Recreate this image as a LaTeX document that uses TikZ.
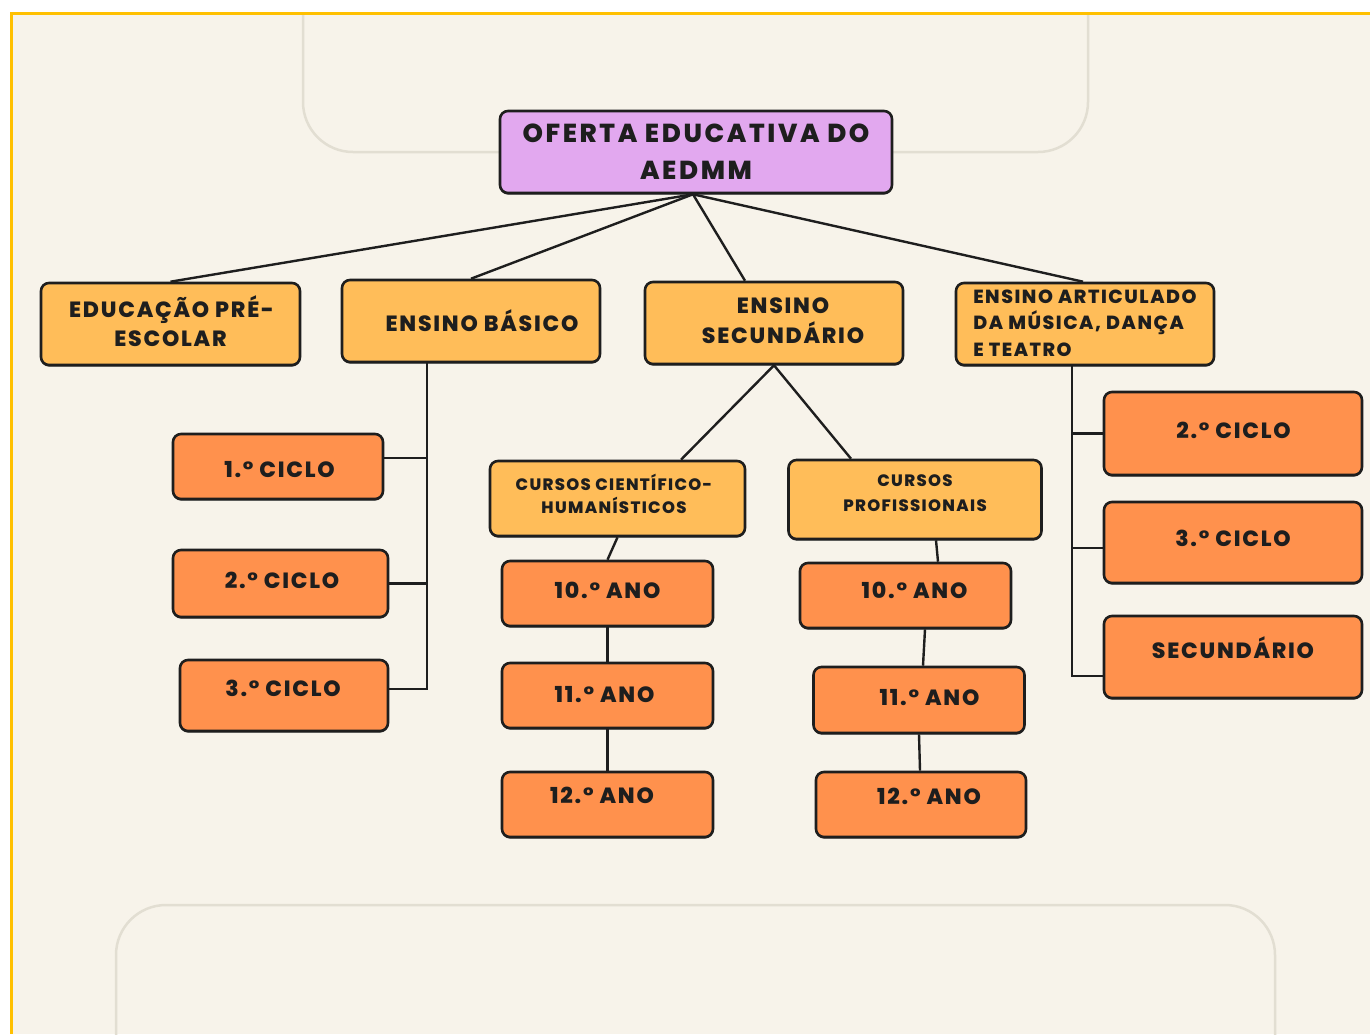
\documentclass[tikz,border=0pt]{standalone}
\usepackage{fontspec}
\setmainfont{Poppins}[LetterSpace=8, BoldFont={Poppins ExtraBold}]
\usetikzlibrary{calc}
\definecolor{cream}{HTML}{F7F3EA}
\definecolor{frameY}{HTML}{FFC000}
\definecolor{ghost}{HTML}{E2DED2}
\definecolor{lor}{HTML}{FFBD59}
\definecolor{dor}{HTML}{FF914D}
\definecolor{purp}{HTML}{E2A8EF}
\definecolor{ink}{HTML}{1E1E1E}
% centred line, shifted right by #1 and lifted by #2 (zero-size box)
\newcommand\ctext[3]{\raisebox{#2}[0pt][0pt]{\makebox[0pt]{\hspace*{#1}\hspace*{#1}#3}}}
% left-aligned line starting #1 from the node centre, lifted by #2
\newcommand\ltext[3]{\raisebox{#2}[0pt][0pt]{\makebox[0pt][l]{\hspace*{#1}#3}}}
\tikzset{
  box/.style={draw=ink, line width=2.6pt, rounded corners=8pt, inner sep=0pt, align=center, text=ink,
     preaction={fill=black!75, transform canvas={yshift=-1.6pt}}},
  lvl/.style={box, fill=lor, font=\bfseries\fontsize{22}{30}\selectfont},
  leaf/.style={box, fill=dor, font=\bfseries\fontsize{22}{30}\selectfont},
  conn/.style={draw=ink, line width=2.4pt},
  ghostline/.style={draw=ghost, line width=2.5pt, rounded corners=50pt}
}
\begin{document}
\begin{tikzpicture}[x=1pt,y=-1pt]
\useasboundingbox (0,0) rectangle (1370,1034);
\fill[white] (0,0) rectangle (1370,1034);
\fill[cream] (12,14) rectangle (1370,1034);
\begin{scope}
\clip (12,14) rectangle (1370,1034);
\draw[ghostline] (303,0) -- (303,152) -- (1088,152) -- (1088,0);
\draw[ghostline] (116,1050) -- (116,905) -- (1275,905) -- (1275,1050);
\end{scope}
\draw[frameY, line width=2.5pt] (11.5,1034) -- (11.5,13.5) -- (1370,13.5);

% root
\node[box, fill=purp, minimum width=392pt, minimum height=82pt, font=\bfseries\fontsize{26}{37}\selectfont\addfontfeature{LetterSpace=10}] (root) at (696,152) {\ctext{0pt}{-8.6pt}{OFERTA EDUCATIVA DO}\\\ctext{0pt}{-8.6pt}{AEDMM}};
% level 1
\node[lvl, minimum width=259pt, minimum height=82pt, font=\bfseries\fontsize{22}{29}\selectfont] (pre) at (170.5,324) {\ctext{1pt}{-7.7pt}{EDUCAÇÃO PRÉ-}\\\ctext{0pt}{-7.7pt}{ESCOLAR}};
\node[lvl, minimum width=258pt, minimum height=82pt] (bas) at (471,321) {\ctext{11pt}{-10.2pt}{ENSINO BÁSICO}};
\node[lvl, minimum width=258pt, minimum height=82pt, font=\bfseries\fontsize{22}{30.5}\selectfont] (sec) at (774,323) {\ctext{9pt}{-5.45pt}{ENSINO}\\\ctext{9pt}{-5.45pt}{SECUNDÁRIO}};
\node[lvl, minimum width=258pt, minimum height=82pt, font=\bfseries\fontsize{19}{26.3}\selectfont] (art) at (1085,324) {\ltext{-111.7pt}{-5.95pt}{ENSINO ARTICULADO}\\\ltext{-111.7pt}{-5.95pt}{DA MÚSICA, DANÇA}\\\ltext{-111.7pt}{-5.95pt}{E TEATRO}};
% basico children
\node[leaf, minimum width=210pt, minimum height=65pt] (c1) at (278,466.5) {\ctext{1.5pt}{-11.2pt}{1.° CICLO}};
\node[leaf, minimum width=215pt, minimum height=67pt] (c2) at (280.5,583.5) {\ctext{1.5pt}{-5.2pt}{2.° CICLO}};
\node[leaf, minimum width=208pt, minimum height=71pt] (c3) at (284,695.5) {\ctext{-1pt}{-0.7pt}{3.° CICLO}};
% secundario children
\node[lvl, minimum width=255pt, minimum height=75pt, font=\bfseries\fontsize{16.5}{22.5}\selectfont] (cch) at (617.5,498.5) {\ctext{-3.5pt}{-3.55pt}{CURSOS CIENTÍFICO-}\\\ctext{-3.5pt}{-3.55pt}{HUMANÍSTICOS}};
\node[lvl, minimum width=253pt, minimum height=79pt, font=\bfseries\fontsize{16.5}{25}\selectfont] (cp) at (915,499.5) {\ctext{0pt}{0.7pt}{CURSOS}\\\ctext{0pt}{0.7pt}{PROFISSIONAIS}};
\node[leaf, minimum width=211pt, minimum height=65pt] (a10) at (607.5,593.5) {\ctext{0pt}{-5.2pt}{10.° ANO}};
\node[leaf, minimum width=211pt, minimum height=65pt] (a11) at (607.5,695.5) {\ctext{-3pt}{-7.2pt}{11.° ANO}};
\node[leaf, minimum width=211pt, minimum height=65pt] (a12) at (607.5,804.5) {\ctext{-5.5pt}{0.8pt}{12.° ANO}};
\node[leaf, minimum width=211pt, minimum height=65pt] (b10) at (905.5,595.5) {\ctext{9pt}{-3.2pt}{10.° ANO}};
\node[leaf, minimum width=211pt, minimum height=66pt] (b11) at (919,700) {\ctext{10.5pt}{-5.2pt}{11.° ANO}};
\node[leaf, minimum width=210pt, minimum height=65pt] (b12) at (921,804.5) {\ctext{8pt}{-0.2pt}{12.° ANO}};
% articulado children
\node[leaf, minimum width=258pt, minimum height=83pt] (r2) at (1233,433.5) {\ctext{0.5pt}{-5.2pt}{2.° CICLO}};
\node[leaf, minimum width=258pt, minimum height=81pt] (r3) at (1233,542.5) {\ctext{0pt}{-3.7pt}{3.° CICLO}};
\node[leaf, minimum width=258pt, minimum height=82pt] (rs) at (1233,657) {\ctext{0pt}{-1.2pt}{SECUNDÁRIO}};

% connectors from root
\draw[conn] ([xshift=-3pt]root.south) -- (pre.north);
\draw[conn] ([xshift=-3pt]root.south) -- (bas.north);
\draw[conn] ([xshift=-3pt]root.south) -- ([xshift=-29pt]sec.north);
\draw[conn] ([xshift=-3pt]root.south) -- ([xshift=-2pt]art.north);
% basico trunk
\coordinate (bt) at ([xshift=-44pt]bas.south);
\draw[conn] (bt) |- ([yshift=6.5pt]c3.east);
\draw[conn] ([yshift=8.5pt]c1.east) -- ([yshift=8.5pt]c1.east -| bt);
\draw[conn] (c2.east) -- (c2.east -| bt);
% secundario
\draw[conn] (sec.south) -- ([xshift=63.5pt]cch.north);
\draw[conn] (sec.south) -- ([xshift=-64pt]cp.north);
\draw[conn] (cch.south) -- (a10.north);
\draw[conn] (a10.south) -- (a11.north);
\draw[conn] (a11.south) -- (a12.north);
\draw[conn] ([xshift=21pt]cp.south) -- ([xshift=32.5pt]b10.north);
\draw[conn] ([xshift=19.5pt]b10.south) -- ([xshift=4pt]b11.north);
\draw[conn] (b11.south) -- ([xshift=-1pt]b12.north);
% articulado trunk
\coordinate (at) at ([xshift=-13pt]art.south);
\draw[conn] (at) |- ([yshift=-19pt]rs.west);
\draw[conn] (r2.west) -- (r2.west -| at);
\draw[conn] ([yshift=-5.5pt]r3.west) -- ([yshift=-5.5pt]r3.west -| at);
\end{tikzpicture}
\end{document}
